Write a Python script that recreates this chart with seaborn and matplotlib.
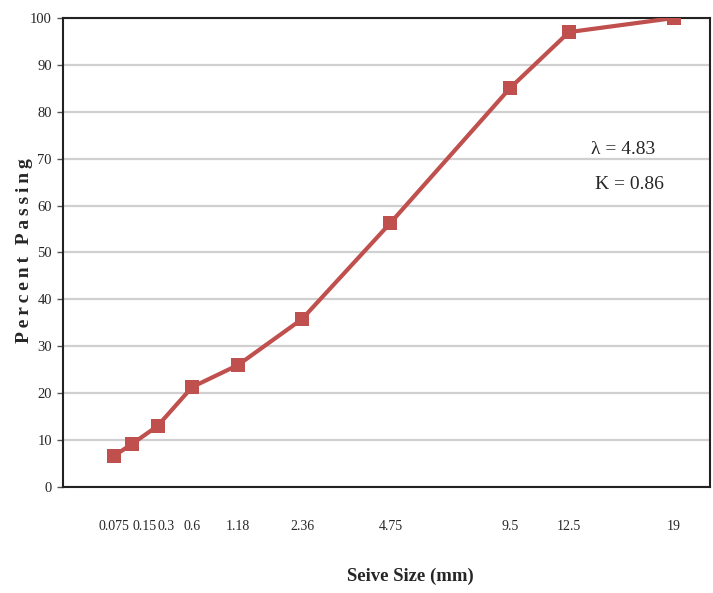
import numpy as np
import pandas as pd
import matplotlib
matplotlib.use("Agg")
import matplotlib.pyplot as plt
import seaborn as sns

# Sieve analysis (gradation curve on a 0.45-power scale)
sieve_sizes = [0.075, 0.15, 0.3, 0.6, 1.18, 2.36, 4.75, 9.5, 12.5, 19]
percent_passing = [6.6, 9.2, 13.0, 21.3, 26.0, 35.8, 56.3, 85.1, 97.0, 100.0]
tick_labels = ["0.075", "0.15", "0.3", "0.6", "1.18", "2.36", "4.75", "9.5", "12.5", "19"]
y_ticks = list(range(0, 101, 10))

df = pd.DataFrame({"size": sieve_sizes, "passing": percent_passing})

sns.set_theme(style="white")
plt.rcParams["font.family"] = ["Liberation Serif", "DejaVu Serif"]

fig = plt.figure(figsize=(7.13, 5.93), dpi=100)
ax = fig.add_axes([0.0885, 0.1788, 0.9075, 0.7908])

power = 0.45
ax.set_xscale("function",
              functions=(lambda v: np.sign(v) * np.abs(v) ** power,
                         lambda v: np.sign(v) * np.abs(v) ** (1 / power)))

sns.lineplot(data=df, x="size", y="passing", ax=ax, color="#C0504D",
             linewidth=3, marker="s", markersize=10.5, markeredgewidth=0,
             markerfacecolor="#C0504D", zorder=3)

ax.set_xlim(0, 21.6)
ax.set_ylim(0, 100)
ax.set_xticks(sieve_sizes)
ax.set_xticklabels(tick_labels, fontsize=10)
ax.set_yticks(y_ticks)
ax.set_yticklabels([str(t) for t in y_ticks], fontsize=10.5)
ax.xaxis.set_minor_locator(matplotlib.ticker.NullLocator())

ax.yaxis.grid(True, color="#D0D0D0", linewidth=1.6)
ax.xaxis.grid(False)
ax.tick_params(axis="x", length=0, pad=24)
ax.tick_params(axis="y", length=4, width=1, color="#555555", pad=4, left=True)

# the fine-sieve labels sit close together: left-align two of them
xlabels = ax.get_xticklabels()
xlabels[1].set_horizontalalignment("left")
xlabels[2].set_horizontalalignment("left")

for side in ["left", "bottom", "top", "right"]:
    ax.spines[side].set_visible(True)
    ax.spines[side].set_color("#222222")
    ax.spines[side].set_linewidth(1.5)

ax.set_xlabel("Seive Size (mm)", fontsize=13.5, fontweight="bold")
ax.xaxis.set_label_coords(0.536, -0.172)
ax.set_ylabel("\u2009".join("Percent") + "\u2009\u2009\u2009" + "\u2009".join("Passing"),
              fontsize=14, fontweight="bold")
ax.yaxis.set_label_coords(-0.047, 0.505)

ax.text(0.866, 0.72, "λ = 4.83", transform=ax.transAxes, fontsize=14,
        ha="center", va="center")
ax.text(0.876, 0.645, "K = 0.86", transform=ax.transAxes, fontsize=14,
        ha="center", va="center")

fig.savefig("out.png", dpi=100)
